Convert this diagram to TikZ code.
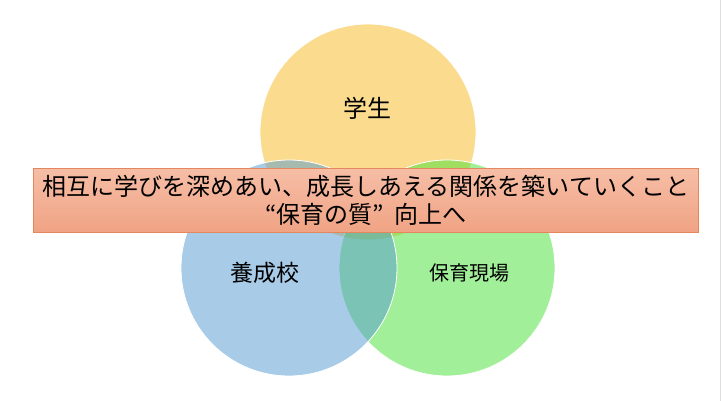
\documentclass[tikz,border=0pt]{standalone}
\usepackage{fontspec}
\setmainfont{Noto Sans CJK JP}
\usetikzlibrary{shadings}
\definecolor{ylw}{RGB}{251,220,142}
\definecolor{grn}{RGB}{71,225,55}
\definecolor{blu}{RGB}{83,153,209}
\definecolor{boxtop}{RGB}{246,190,166}
\definecolor{boxbot}{RGB}{240,163,132}
\definecolor{boxline}{RGB}{228,135,95}
\definecolor{edgegrey}{RGB}{222,222,222}
\tikzset{
  circ/.style={circle, minimum size=216pt, inner sep=0pt, draw=white, line width=0.8pt},
  lbl/.style={inner sep=0pt, text=black},
}
\begin{document}
\begin{tikzpicture}[x=1pt,y=-1pt]
\useasboundingbox (0,0) rectangle (723,401);
\fill[white] (0,0) rectangle (723,401);
\draw[edgegrey, line width=1.5pt] (720.5,0) -- (720.5,401);
\node[circ, fill=ylw] (yc) at (368,132) {};
\node[circ, fill=grn, fill opacity=0.5] (gc) at (447,268) {};
\node[circ, fill=blu, fill opacity=0.5] (bc) at (289,268) {};
\node[lbl, font=\fontsize{24}{28}\selectfont] (t1) at (367,108) {学生};
\node[lbl, font=\fontsize{23}{27}\selectfont] (t2) at (265,273) {養成校};
\node[lbl, font=\fontsize{20}{24}\selectfont] (t3) at (469,273) {保育現場};
\node[draw=boxline, line width=0.8pt, top color=boxtop, bottom color=boxbot,
      minimum width=665pt, minimum height=64pt, inner sep=0pt, anchor=north west,
      align=center, font=\fontsize{24}{29}\selectfont] (box) at (33,168)
      {\raisebox{-1pt}{相互に学びを深めあい、成長しあえる関係を築いていくこと}\\“保育の質”\hspace{0.45em}向上へ};
\end{tikzpicture}
\end{document}
